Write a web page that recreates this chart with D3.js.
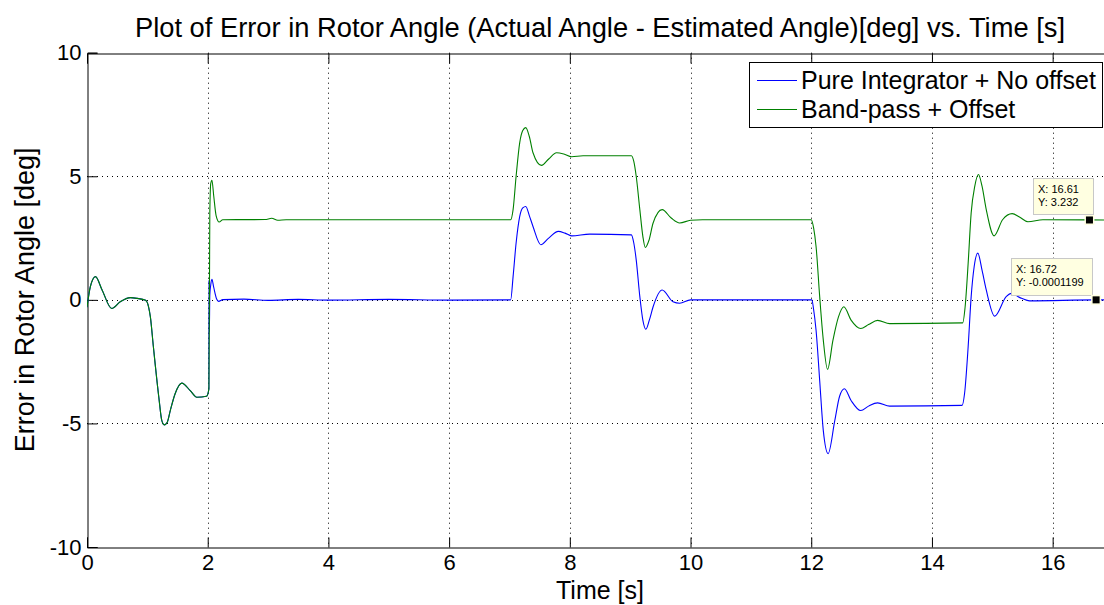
<!DOCTYPE html>
<html><head><meta charset="utf-8">
<script src="https://cdn.jsdelivr.net/npm/d3@7/dist/d3.min.js"></script>
<style>
body{margin:0;background:#fff;}
svg{display:block;font-family:"Liberation Sans",Arial,sans-serif;}
</style></head>
<body><svg id="c" width="1104" height="605"></svg>
<script>
// ---- data ----
const commonT = [0, 0.055, 0.14, 0.25, 0.41, 0.55, 0.72, 0.83, 0.97, 1.02, 1.05, 1.10, 1.19, 1.24, 1.28, 1.33, 1.38, 1.46, 1.57, 1.71, 1.82, 1.98, 2.02];
const commonY = [-0.3, 0.53, 0.94, 0.4, -0.35, -0.08, 0.09, 0.06, -0.02, -0.28, -0.69, -1.9, -3.94, -4.89, -5.06, -4.95, -4.48, -3.8, -3.37, -3.67, -3.94, -3.9, -3.6];

const greenT = [2.035, 2.05, 2.07, 2.10, 2.14, 2.19, 2.25, 2.95, 3.06, 3.16, 3.3, 7.02, 7.06, 7.11, 7.17, 7.22, 7.27, 7.33, 7.39, 7.53, 7.65, 7.78, 7.9, 8.03, 8.22, 9.02, 9.06, 9.10, 9.16, 9.21, 9.25, 9.31, 9.38, 9.53, 9.68, 9.82, 10.0, 10.2, 12.0, 12.04, 12.08, 12.14, 12.2, 12.27, 12.36, 12.45, 12.54, 12.66, 12.82, 12.95, 13.1, 13.3, 14.51, 14.55, 14.6, 14.65, 14.71, 14.77, 14.83, 14.9, 15.03, 15.17, 15.33, 15.45, 15.59, 15.84, 17.0];
const greenY = [3.5, 4.7, 4.84, 4.2, 3.4, 3.15, 3.24, 3.25, 3.3, 3.22, 3.24, 3.24, 3.65, 5.0, 6.36, 6.85, 6.97, 6.6, 5.95, 5.44, 5.7, 5.95, 5.9, 5.79, 5.83, 5.83, 5.6, 5.0, 3.65, 2.57, 2.12, 2.4, 3.11, 3.65, 3.31, 3.11, 3.22, 3.24, 3.24, 2.9, 2.16, 0.13, -1.63, -2.81, -1.63, -0.7, -0.28, -0.82, -1.16, -1.0, -0.83, -0.96, -0.93, -0.28, 1.48, 3.52, 4.6, 5.07, 4.6, 3.65, 2.59, 3.24, 3.49, 3.35, 3.16, 3.24, 3.23];

const blueT = [2.022, 2.027, 2.035, 2.05, 2.07, 2.10, 2.15, 2.18, 2.25, 2.6, 3.0, 3.5, 4.0, 5.0, 6.0, 7.02, 7.06, 7.11, 7.17, 7.22, 7.27, 7.33, 7.39, 7.52, 7.65, 7.81, 7.92, 8.03, 8.33, 9.02, 9.06, 9.10, 9.16, 9.21, 9.26, 9.32, 9.38, 9.53, 9.71, 9.82, 10.0, 12.01, 12.04, 12.08, 12.14, 12.2, 12.28, 12.39, 12.47, 12.55, 12.66, 12.82, 12.95, 13.1, 13.3, 14.5, 14.54, 14.6, 14.65, 14.7, 14.76, 14.83, 14.9, 15.04, 15.23, 15.32, 15.45, 15.62, 16.72, 17.0];
const blueY = [0.8, -1.3, 0.2, 0.6, 0.83, 0.5, 0.02, -0.06, 0.01, 0.03, -0.02, 0.02, -0.01, 0.02, -0.01, 0, 0.94, 2.3, 3.38, 3.72, 3.78, 3.4, 2.97, 2.23, 2.5, 2.77, 2.7, 2.59, 2.66, 2.63, 2.3, 1.62, 0.13, -0.82, -1.19, -0.8, -0.28, 0.4, -0.08, -0.14, 0, 0, -0.4, -1.23, -3.26, -5.29, -6.22, -4.89, -3.9, -3.6, -4.07, -4.48, -4.3, -4.17, -4.3, -4.27, -3.8, -1.9, 0.13, 1.35, 1.89, 1.2, 0.4, -0.66, 0.13, 0.26, 0.1, -0.04, 0, 0];

const xTicks = [0, 2, 4, 6, 8, 10, 12, 14, 16];
const yTicks = [-10, -5, 0, 5, 10];
const seriesNames = ["Pure Integrator + No offset", "Band-pass + Offset"];
const seriesColors = ["#0000ff", "#008000"];
const tipX = [16.61, 16.72];
const tipY = [3.232, -0.0001199];
const tipLabels = [["X: 16.61", "Y: 3.232"], ["X: 16.72", "Y: -0.0001199"]];
const titleText = "Plot of Error in Rotor Angle (Actual Angle - Estimated Angle)[deg] vs. Time [s]";
const xLabel = "Time [s]";
const yLabel = "Error in Rotor Angle [deg]";

// ---- layout ----
const L = 87, R = 1113, T = 52.7, B = 547;
const svg = d3.select("#c");
const x = d3.scaleLinear().domain([0, 17]).range([L, R]);
const y = d3.scaleLinear().domain([-10, 10]).range([B, T]);

const toPts = (ts, ys) => ts.map((t, i) => [t, ys[i]]);
const bluePts = toPts(commonT.concat(blueT), commonY.concat(blueY));
const greenPts = toPts(commonT.concat(greenT), commonY.concat(greenY));

// grid
const g = svg.append("g");
g.selectAll(".gx").data(xTicks.filter(d => d > 0)).enter().append("line")
  .attr("x1", d => Math.round(x(d)) + 0.5).attr("x2", d => Math.round(x(d)) + 0.5)
  .attr("y1", T).attr("y2", B).attr("stroke", "#000").attr("stroke-width", 1)
  .attr("stroke-dasharray", "1,4");
g.selectAll(".gy").data(yTicks.filter(d => d > -10 && d < 10)).enter().append("line")
  .attr("y1", d => Math.round(y(d)) + 0.5).attr("y2", d => Math.round(y(d)) + 0.5)
  .attr("x1", L).attr("x2", R).attr("stroke", "#000").attr("stroke-width", 1)
  .attr("stroke-dasharray", "1,4");

// axes
const fmt = d => String(d);
const xAxisB = d3.axisBottom(x).tickValues(xTicks).tickSize(-10).tickPadding(7).tickFormat(fmt);
const xAxisT = d3.axisTop(x).tickValues(xTicks).tickSize(-10).tickFormat("");
const yAxisL = d3.axisLeft(y).tickValues(yTicks).tickSize(-10).tickPadding(6).tickFormat(fmt);

const ax1 = svg.append("g").attr("transform", `translate(0,${Math.round(B) + 0.5})`).call(xAxisB);
const ax2 = svg.append("g").attr("transform", `translate(0,${Math.round(T) + 0.5})`).call(xAxisT);
const ax3 = svg.append("g").attr("transform", `translate(${L + 0.5},0)`).call(yAxisL);
[ax1, ax2, ax3].forEach(a => {
  a.select(".domain").attr("stroke", "#000").attr("stroke-width", 1);
  a.selectAll(".tick line").attr("stroke", "#000");
  a.selectAll("text").attr("font-size", 22).attr("fill", "#000")
    .attr("font-family", "'Liberation Sans',Arial,sans-serif");
});
ax1.selectAll("text").attr("dy", "0.71em");

// lines
const line = d3.line().x(d => x(d[0])).y(d => y(d[1])).curve(d3.curveMonotoneX);
svg.append("clipPath").attr("id", "pc").append("rect")
  .attr("x", L).attr("y", T).attr("width", R - L).attr("height", B - T);
svg.append("path").datum(bluePts).attr("d", line).attr("fill", "none")
  .attr("stroke", seriesColors[0]).attr("stroke-width", 1.1).attr("clip-path", "url(#pc)");
svg.append("path").datum(greenPts).attr("d", line).attr("fill", "none")
  .attr("stroke", seriesColors[1]).attr("stroke-width", 1.1).attr("clip-path", "url(#pc)");

// title & labels
svg.append("text").attr("x", (L + R) / 2).attr("y", 37).attr("text-anchor", "middle")
  .attr("font-size", 27.3).attr("fill", "#000").text(titleText);
svg.append("text").attr("x", (L + R) / 2).attr("y", 599).attr("text-anchor", "middle")
  .attr("font-size", 25).attr("fill", "#000").text(xLabel);
svg.append("text").attr("transform", `translate(34,${(T + B) / 2}) rotate(-90)`)
  .attr("text-anchor", "middle").attr("font-size", 27).attr("fill", "#000").text(yLabel);

// legend
const lg = svg.append("g");
lg.append("rect").attr("x", 749.5).attr("y", 62.5).attr("width", 353).attr("height", 65)
  .attr("fill", "#fff").attr("stroke", "#000").attr("stroke-width", 1);
seriesNames.forEach((n, i) => {
  const yy = 80 + i * 29;
  lg.append("line").attr("x1", 757).attr("x2", 797).attr("y1", yy + 0.5).attr("y2", yy + 0.5)
    .attr("stroke", seriesColors[i]).attr("stroke-width", 1);
  lg.append("text").attr("x", 801).attr("y", yy + 9).attr("font-size", 25)
    .attr("fill", "#000").text(n);
});

// data tips
const tipBox = [{dx: -56.5, dy: -42, w: 60, h: 36}, {dx: -85.5, dy: -42, w: 81, h: 37}];
tipX.forEach((tx, i) => {
  const mx = x(tx), my = y(tipY[i]);
  const b = tipBox[i];
  const tg = svg.append("g");
  tg.append("rect").attr("x", Math.round(mx + b.dx) + 0.5).attr("y", Math.round(my + b.dy) + 0.5)
    .attr("width", b.w).attr("height", b.h).attr("fill", "#ffffe1").attr("stroke", "#c8c8c8");
  tipLabels[i].forEach((s, j) => {
    tg.append("text").attr("x", Math.round(mx + b.dx) + 5).attr("y", Math.round(my + b.dy) + 15 + j * 13)
      .attr("font-size", 11).attr("fill", "#000").text(s);
  });
  tg.append("rect").attr("x", mx - 5).attr("y", my - 5).attr("width", 10).attr("height", 10)
    .attr("fill", "#ffffe1");
  tg.append("rect").attr("x", mx - 3.5).attr("y", my - 3.5).attr("width", 7).attr("height", 7)
    .attr("fill", "#000");
});
</script></body></html>
